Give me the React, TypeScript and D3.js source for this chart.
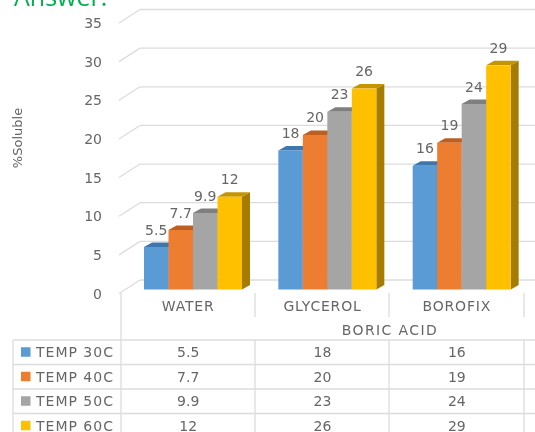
import React, { useEffect, useRef } from 'react';
import * as d3 from 'd3';

const categories = ['WATER', 'GLYCEROL', 'BOROFIX'];
const seriesNames = ['TEMP 30C', 'TEMP 40C', 'TEMP 50C', 'TEMP 60C'];
const temp30 = ['5.5', '18', '16'];
const temp40 = ['7.7', '20', '19'];
const temp50 = ['9.9', '23', '24'];
const temp60 = ['12', '26', '29'];
const yTicks = [0, 5, 10, 15, 20, 25, 30, 35];
const seriesLabels = [temp30, temp40, temp50, temp60];

const frontColors = ['#5b9bd5', '#ed7d31', '#a5a5a5', '#ffc000'];
const topColors = ['#3f76ab', '#bd5f22', '#7f7f7f', '#c49500'];
const sideColors = ['#3a6a98', '#a8541d', '#6f6f6f', '#a67c00'];

const FONT = '"DejaVu Sans", sans-serif';
const TEXT = '#666666';
const LINE = '#dcdcdc';

const App: React.FC = () => {
  const svgRef = useRef<SVGSVGElement>(null);

  useEffect(() => {
    if (!svgRef.current) return;
    const svg = d3.select(svgRef.current);
    svg.selectAll('*').remove();

    const y = d3.scaleLinear().domain([0, 35]).range([289.5, 19]);
    const x0 = d3.scaleBand().domain(categories).range([121, 524]);
    const x1 = d3.scaleBand().domain(seriesNames).range([23, 23 + 98]);
    const depthX = 8;
    const depthY = 4.5;

    const text = (s: string, x: number, yy: number, size = 14, anchor = 'middle', spacing = 0) =>
      svg.append('text')
        .attr('x', x)
        .attr('y', yy)
        .attr('dy', '0.36em')
        .attr('text-anchor', anchor)
        .attr('fill', TEXT)
        .attr('font-family', FONT)
        .attr('font-size', size)
        .attr('letter-spacing', spacing)
        .text(s);

    const line = (a: number, b: number, c: number, d: number) =>
      svg.append('line')
        .attr('x1', a).attr('y1', b).attr('x2', c).attr('y2', d)
        .attr('stroke', LINE)
        .attr('stroke-width', 1.3);

    // title fragment cut off by the crop
    svg.append('text')
      .attr('x', 14)
      .attr('y', 6)
      .attr('fill', '#00b050')
      .attr('font-family', '"Open Sans", sans-serif')
      .attr('font-size', 25)
      .text('Answer:');

    // wall gridlines and the slanted floor part
    yTicks.forEach(t => {
      line(119, y(t) + 4, 140, y(t) - 9.5);
      line(140, y(t) - 9.5, 535, y(t) - 9.5);
      text(String(t), 102, y(t) + 4, 14, 'end');
    });

    // bars
    categories.forEach((cat, c) => {
      seriesNames.forEach((name, s) => {
        const value = +seriesLabels[s][c];
        const left = x0(cat)! + x1(name)!;
        const right = left + x1.bandwidth();
        const top = y(value);
        const base = y(0);
        const pts = (p: number[][]) => p.map(d => d.join(',')).join(' ');

        svg.append('polygon')
          .attr('fill', sideColors[s])
          .attr('points', pts([[right, top], [right + depthX, top - depthY], [right + depthX, base - depthY], [right, base]]));
        svg.append('polygon')
          .attr('fill', topColors[s])
          .attr('points', pts([[left, top], [left + depthX, top - depthY], [right + depthX, top - depthY], [right, top]]));
        svg.append('rect')
          .attr('x', left)
          .attr('y', top)
          .attr('width', x1.bandwidth())
          .attr('height', base - top)
          .attr('fill', frontColors[s]);
      });
    });

    // data labels go on top of everything
    categories.forEach((cat, c) => {
      seriesNames.forEach((name, s) => {
        const label = seriesLabels[s][c];
        text(label, x0(cat)! + x1(name)! + x1.bandwidth() / 2, y(+label) - 17.5);
      });
    });

    // category axis
    line(121, 293, 121, 432);
    [255, 389, 524].forEach(v => line(v, 293, v, 317));
    categories.forEach(cat => text(cat, x0(cat)! + x0.bandwidth() / 2, 306, 14, 'middle', 0.8));
    text('BORIC ACID', 390, 330, 14, 'middle', 1.4);

    // data table
    const rowY = d3.scaleBand().domain(seriesNames).range([340, 438]);
    [...seriesNames, ''].forEach((name, i) => line(13, 340 + i * rowY.bandwidth(), 535, 340 + i * rowY.bandwidth()));
    [13, 255, 389, 524].forEach(v => line(v, 340, v, 432));
    seriesNames.forEach((name, s) => {
      const cy = rowY(name)! + rowY.bandwidth() / 2;
      svg.append('rect')
        .attr('x', 21)
        .attr('y', cy - 5)
        .attr('width', 9.5)
        .attr('height', 9.5)
        .attr('fill', frontColors[s]);
      text(name, 36, cy, 14, 'start', 1);
      categories.forEach((cat, c) => text(seriesLabels[s][c], x0(cat)! + x0.bandwidth() / 2, cy));
    });

    // y axis title
    svg.append('text')
      .attr('transform', 'translate(17,138) rotate(-90)')
      .attr('dy', '0.36em')
      .attr('text-anchor', 'middle')
      .attr('fill', TEXT)
      .attr('font-family', FONT)
      .attr('font-size', 13)
      .text('%Soluble');
  }, []);

  return (
    <svg
      ref={svgRef}
      width={535}
      height={432}
      style={{ position: 'absolute', left: 0, top: 0, background: '#fff', filter: 'blur(0.4px)' }}
    />
  );
};

export default App;
